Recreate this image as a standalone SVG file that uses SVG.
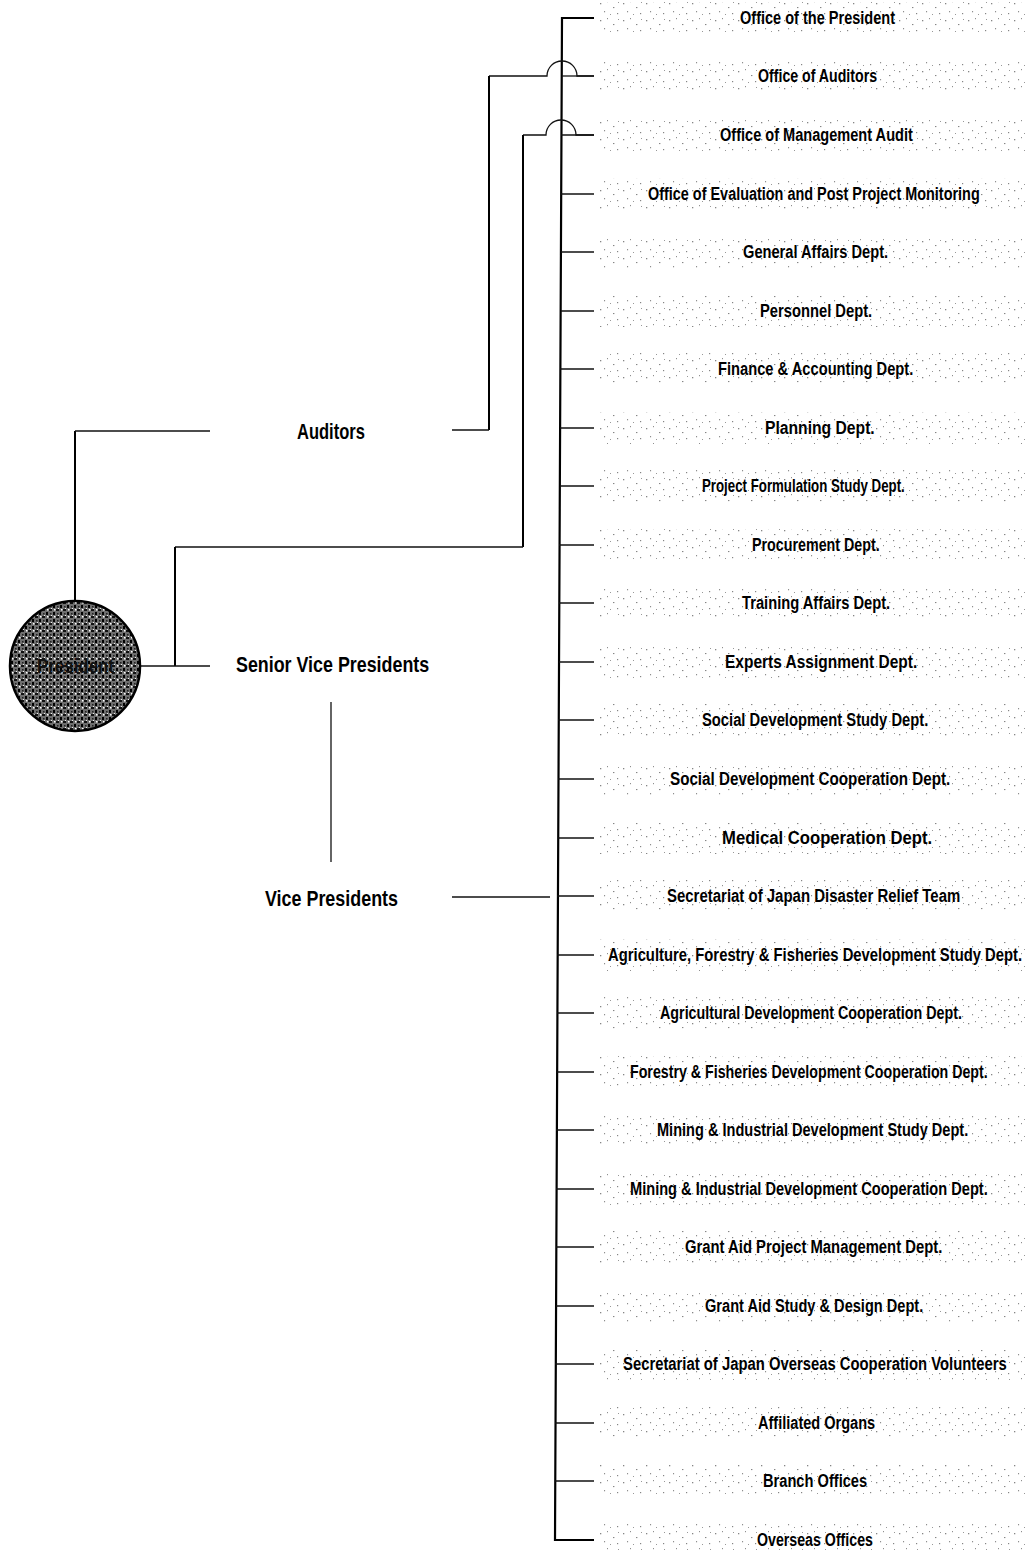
<svg xmlns="http://www.w3.org/2000/svg" width="1027" height="1550" viewBox="0 0 1027 1550">
<defs>
<pattern id="stip" width="23" height="17" patternUnits="userSpaceOnUse">
<rect x="2" y="3" width="1.3" height="1.3" fill="#222"/>
<rect x="9" y="1" width="1" height="1.2" fill="#333"/>
<rect x="15" y="7" width="1.4" height="1.1" fill="#222"/>
<rect x="6" y="11" width="1.1" height="1.3" fill="#333"/>
<rect x="19" y="13" width="1.2" height="1.2" fill="#222"/>
<rect x="12" y="14" width="1" height="1" fill="#444"/>
<rect x="20" y="2" width="1" height="1" fill="#444"/>
</pattern>
<pattern id="dark" width="7" height="7" patternUnits="userSpaceOnUse">
<rect width="7" height="7" fill="#6e6e6e"/>
<rect x="0" y="0" width="3" height="2" fill="#111"/>
<rect x="4" y="3" width="2" height="3" fill="#000"/>
<rect x="1" y="4" width="1.5" height="1.5" fill="#222"/>
<rect x="5" y="0" width="1.5" height="1.5" fill="#fff"/>
<rect x="2" y="6" width="1" height="1" fill="#eee"/>
</pattern>
</defs>
<style>
.ln{stroke:#111;stroke-width:1.3;fill:none}
.bus{stroke:#000;stroke-width:2.2;fill:none}
.v{stroke:#000;stroke-width:2;fill:none}
.lab{font-family:"Liberation Sans",Arial,sans-serif;font-weight:bold;font-size:19px;fill:#000}
.big{font-family:"Liberation Sans",Arial,sans-serif;font-weight:bold;font-size:22px;fill:#000}
.band{fill:url(#stip);opacity:0.55}
</style>
<rect width="1027" height="1550" fill="#fff"/>

<g id="bands">
<rect class="band" x="596" y="2" width="431" height="32"/>
<rect class="band" x="596" y="60" width="431" height="32"/>
<rect class="band" x="596" y="119" width="431" height="32"/>
<rect class="band" x="596" y="178" width="431" height="32"/>
<rect class="band" x="596" y="236" width="431" height="32"/>
<rect class="band" x="596" y="295" width="431" height="32"/>
<rect class="band" x="596" y="353" width="431" height="32"/>
<rect class="band" x="596" y="412" width="431" height="32"/>
<rect class="band" x="596" y="470" width="431" height="32"/>
<rect class="band" x="596" y="529" width="431" height="32"/>
<rect class="band" x="596" y="587" width="431" height="32"/>
<rect class="band" x="596" y="646" width="431" height="32"/>
<rect class="band" x="596" y="704" width="431" height="32"/>
<rect class="band" x="596" y="763" width="431" height="32"/>
<rect class="band" x="596" y="822" width="431" height="32"/>
<rect class="band" x="596" y="880" width="431" height="32"/>
<rect class="band" x="596" y="939" width="431" height="32"/>
<rect class="band" x="596" y="997" width="431" height="32"/>
<rect class="band" x="596" y="1056" width="431" height="32"/>
<rect class="band" x="596" y="1114" width="431" height="32"/>
<rect class="band" x="596" y="1173" width="431" height="32"/>
<rect class="band" x="596" y="1231" width="431" height="32"/>
<rect class="band" x="596" y="1290" width="431" height="32"/>
<rect class="band" x="596" y="1348" width="431" height="32"/>
<rect class="band" x="596" y="1407" width="431" height="32"/>
<rect class="band" x="596" y="1465" width="431" height="32"/>
<rect class="band" x="596" y="1524" width="431" height="26"/>
</g>

<g id="connectors">
<path class="bus" d="M594,18 H562 L555,1540 H594"/>
<path class="ln" d="M562,76 H594"/>
<path class="ln" d="M561,135 H594"/>
<path class="ln" d="M561,194 H594"/>
<path class="ln" d="M561,252 H594"/>
<path class="ln" d="M561,311 H594"/>
<path class="ln" d="M560,369 H594"/>
<path class="ln" d="M560,428 H594"/>
<path class="ln" d="M560,486 H594"/>
<path class="ln" d="M559,545 H594"/>
<path class="ln" d="M559,603 H594"/>
<path class="ln" d="M559,662 H594"/>
<path class="ln" d="M558,720 H594"/>
<path class="ln" d="M558,779 H594"/>
<path class="ln" d="M558,838 H594"/>
<path class="ln" d="M557,896 H594"/>
<path class="ln" d="M557,955 H594"/>
<path class="ln" d="M557,1013 H594"/>
<path class="ln" d="M557,1072 H594"/>
<path class="ln" d="M556,1130 H594"/>
<path class="ln" d="M556,1189 H594"/>
<path class="ln" d="M556,1247 H594"/>
<path class="ln" d="M556,1306 H594"/>
<path class="ln" d="M555,1364 H594"/>
<path class="ln" d="M555,1423 H594"/>
<path class="ln" d="M555,1481 H594"/>
<path class="ln" d="M489,76 H547 A15,15 0 0 1 577,76 H594"/>
<path class="v" d="M489,76 V430"/>
<path class="ln" d="M452,430 H489"/>
<path class="v" d="M75,601 V431"/>
<path class="ln" d="M75,431 H210"/>
<path class="ln" d="M523,135 H546 A15,15 0 0 1 576,135 H594"/>
<path class="v" d="M523,135 V547"/>
<path class="ln" d="M175,547 H523"/>
<path class="v" d="M175,547 V666"/>
<path class="ln" d="M141,666 H210"/>
<path class="ln" d="M331,702 V862"/>
<path class="ln" d="M452,897 H550"/>
</g>

<g id="president">
<circle cx="75" cy="666" r="65" fill="url(#dark)" stroke="#000" stroke-width="2.5"/>
<text class="lab" transform="translate(37,673) scale(0.7,1)" textLength="110" lengthAdjust="spacingAndGlyphs" style="font-size:20px;fill:#111">President</text>
</g>
<g id="auditors"><text class="big" transform="translate(297,439) scale(0.7,1)" textLength="97" lengthAdjust="spacingAndGlyphs">Auditors</text></g>
<g id="senior-vp"><text class="big" transform="translate(236,672) scale(0.7,1)" textLength="276" lengthAdjust="spacingAndGlyphs">Senior Vice Presidents</text></g>
<g id="vp"><text class="big" transform="translate(265,906) scale(0.7,1)" textLength="190" lengthAdjust="spacingAndGlyphs">Vice Presidents</text></g>

<g id="n01"><text class="lab" transform="translate(740,24) scale(0.62,1)" textLength="250" lengthAdjust="spacingAndGlyphs">Office of the President</text></g>
<g id="n02"><text class="lab" transform="translate(758,82) scale(0.62,1)" textLength="192" lengthAdjust="spacingAndGlyphs">Office of Auditors</text></g>
<g id="n03"><text class="lab" transform="translate(720,141) scale(0.62,1)" textLength="311" lengthAdjust="spacingAndGlyphs">Office of Management Audit</text></g>
<g id="n04"><text class="lab" transform="translate(648,200) scale(0.62,1)" textLength="535" lengthAdjust="spacingAndGlyphs">Office of Evaluation and Post Project Monitoring</text></g>
<g id="n05"><text class="lab" transform="translate(743,258) scale(0.62,1)" textLength="234" lengthAdjust="spacingAndGlyphs">General Affairs Dept.</text></g>
<g id="n06"><text class="lab" transform="translate(760,317) scale(0.62,1)" textLength="181" lengthAdjust="spacingAndGlyphs">Personnel Dept.</text></g>
<g id="n07"><text class="lab" transform="translate(718,375) scale(0.62,1)" textLength="315" lengthAdjust="spacingAndGlyphs">Finance &amp; Accounting Dept.</text></g>
<g id="n08"><text class="lab" transform="translate(765,434) scale(0.62,1)" textLength="177" lengthAdjust="spacingAndGlyphs">Planning Dept.</text></g>
<g id="n09"><text class="lab" transform="translate(702,492) scale(0.62,1)" textLength="327" lengthAdjust="spacingAndGlyphs">Project Formulation Study Dept.</text></g>
<g id="n10"><text class="lab" transform="translate(752,551) scale(0.62,1)" textLength="206" lengthAdjust="spacingAndGlyphs">Procurement Dept.</text></g>
<g id="n11"><text class="lab" transform="translate(742,609) scale(0.62,1)" textLength="239" lengthAdjust="spacingAndGlyphs">Training Affairs Dept.</text></g>
<g id="n12"><text class="lab" transform="translate(725,668) scale(0.62,1)" textLength="310" lengthAdjust="spacingAndGlyphs">Experts Assignment Dept.</text></g>
<g id="n13"><text class="lab" transform="translate(702,726) scale(0.62,1)" textLength="365" lengthAdjust="spacingAndGlyphs">Social Development Study Dept.</text></g>
<g id="n14"><text class="lab" transform="translate(670,785) scale(0.62,1)" textLength="452" lengthAdjust="spacingAndGlyphs">Social Development Cooperation Dept.</text></g>
<g id="n15"><text class="lab" transform="translate(722,844) scale(0.62,1)" textLength="339" lengthAdjust="spacingAndGlyphs">Medical Cooperation Dept.</text></g>
<g id="n16"><text class="lab" transform="translate(667,902) scale(0.62,1)" textLength="473" lengthAdjust="spacingAndGlyphs">Secretariat of Japan Disaster Relief Team</text></g>
<g id="n17"><text class="lab" transform="translate(608,961) scale(0.62,1)" textLength="668" lengthAdjust="spacingAndGlyphs">Agriculture, Forestry &amp; Fisheries Development Study Dept.</text></g>
<g id="n18"><text class="lab" transform="translate(660,1019) scale(0.62,1)" textLength="487" lengthAdjust="spacingAndGlyphs">Agricultural Development Cooperation Dept.</text></g>
<g id="n19"><text class="lab" transform="translate(630,1078) scale(0.62,1)" textLength="577" lengthAdjust="spacingAndGlyphs">Forestry &amp; Fisheries Development Cooperation Dept.</text></g>
<g id="n20"><text class="lab" transform="translate(657,1136) scale(0.62,1)" textLength="502" lengthAdjust="spacingAndGlyphs">Mining &amp; Industrial Development Study Dept.</text></g>
<g id="n21"><text class="lab" transform="translate(630,1195) scale(0.62,1)" textLength="577" lengthAdjust="spacingAndGlyphs">Mining &amp; Industrial Development Cooperation Dept.</text></g>
<g id="n22"><text class="lab" transform="translate(685,1253) scale(0.62,1)" textLength="415" lengthAdjust="spacingAndGlyphs">Grant Aid Project Management Dept.</text></g>
<g id="n23"><text class="lab" transform="translate(705,1312) scale(0.62,1)" textLength="352" lengthAdjust="spacingAndGlyphs">Grant Aid Study &amp; Design Dept.</text></g>
<g id="n24"><text class="lab" transform="translate(623,1370) scale(0.62,1)" textLength="619" lengthAdjust="spacingAndGlyphs">Secretariat of Japan Overseas Cooperation Volunteers</text></g>
<g id="n25"><text class="lab" transform="translate(758,1429) scale(0.62,1)" textLength="189" lengthAdjust="spacingAndGlyphs">Affiliated Organs</text></g>
<g id="n26"><text class="lab" transform="translate(763,1487) scale(0.62,1)" textLength="168" lengthAdjust="spacingAndGlyphs">Branch Offices</text></g>
<g id="n27"><text class="lab" transform="translate(757,1546) scale(0.62,1)" textLength="187" lengthAdjust="spacingAndGlyphs">Overseas Offices</text></g>
</svg>
